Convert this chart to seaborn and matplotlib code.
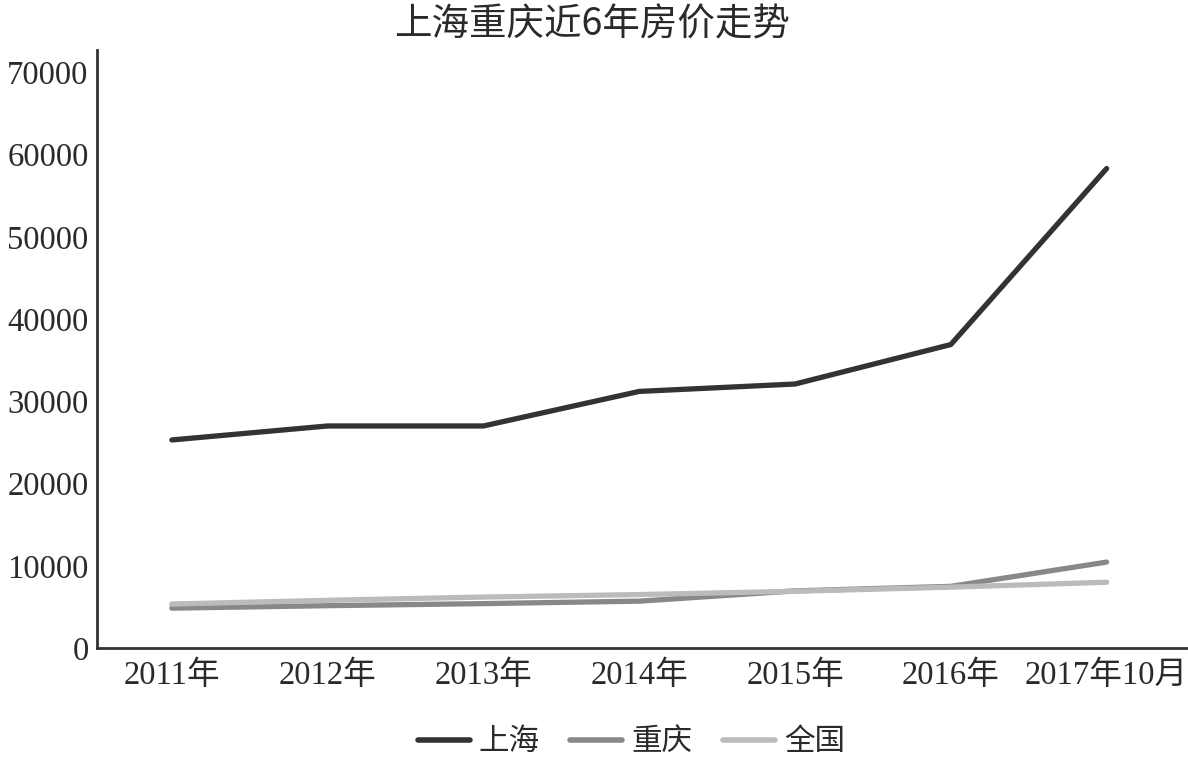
import pandas as pd
import matplotlib
matplotlib.use("Agg")
import matplotlib.pyplot as plt
import seaborn as sns

# 数据
years = ["2011年", "2012年", "2013年", "2014年", "2015年", "2016年", "2017年10月"]
shanghai = [25300, 27000, 27000, 31200, 32100, 36900, 58300]
chongqing = [4850, 5150, 5400, 5700, 6950, 7500, 10450]
quanguo = [5350, 5800, 6200, 6500, 6900, 7400, 8000]
series_names = ["上海", "重庆", "全国"]
colors = ["#333333", "#888888", "#bbbbbb"]

df = pd.DataFrame({
    "year": years * 3,
    "price": shanghai + chongqing + quanguo,
    "city": [series_names[0]] * 7 + [series_names[1]] * 7 + [series_names[2]] * 7,
})

sns.set_style("white")
serif_cjk = ["Liberation Serif", "Noto Sans CJK SC"]
plt.rcParams["font.family"] = ["Noto Sans CJK SC", "DejaVu Sans"]

fig = plt.figure(figsize=(11.88, 7.59), dpi=100)
ax = fig.add_axes([0.0817, 0.1462, 0.918, 0.7878])

sns.lineplot(data=df, x="year", y="price", hue="city", palette=colors,
             linewidth=3.8, sort=False, ax=ax, legend=True)

ax.set_xlim(-0.48, 6.52)
ax.set_ylim(0, 72700)
ax.set_yticks(range(0, 70001, 10000))
ax.set_xlabel("")
ax.set_ylabel("")
ax.tick_params(axis="both", length=0, labelsize=23.5, labelcolor="#2a2a2a")
ax.tick_params(axis="y", pad=6)
ax.tick_params(axis="x", pad=9)
for lab in ax.get_xticklabels() + ax.get_yticklabels():
    lab.set_family(serif_cjk)

for s in ["top", "right"]:
    ax.spines[s].set_visible(False)
for s in ["left", "bottom"]:
    ax.spines[s].set_color("#333333")
    ax.spines[s].set_linewidth(2)

# 标题
fig.text(0.498, 1 - 25 / 759, "上海重庆近6年房价走势", fontsize=27,
         fontweight="medium", color="#2a2a2a", ha="center", va="center")

handles, labels = ax.get_legend_handles_labels()
leg = ax.legend(handles, labels, loc="upper center", bbox_to_anchor=(0.49, -0.085),
                ncol=3, frameon=False, fontsize=22, handlelength=1.7,
                columnspacing=1.0, handletextpad=0.3)
for line in leg.get_lines():
    line.set_linewidth(4)
for t in leg.get_texts():
    t.set_color("#2a2a2a")

fig.savefig("out.png", dpi=100)
